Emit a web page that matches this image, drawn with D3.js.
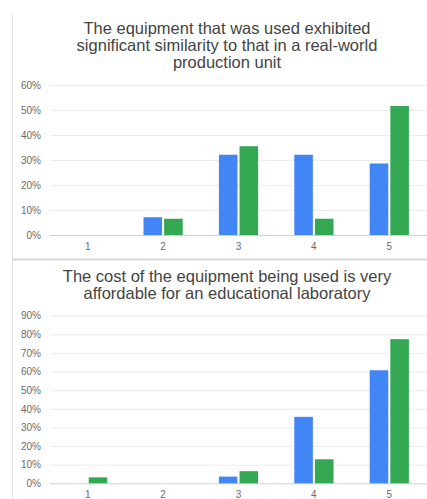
<!DOCTYPE html>
<html>
<head>
<meta charset="utf-8">
<script src="https://cdn.jsdelivr.net/npm/d3@7"></script>
<style>
  body { margin: 0; background: #fff; }
  svg { display: block; font-family: "Liberation Sans", Arial, sans-serif; }
</style>
</head>
<body>
<svg id="chart"></svg>
<script>
const width = 427
const height = 499

// DATA
const categories = ["1", "2", "3", "4", "5"]
const seriesKeys = ["a", "b"]
const colors = ["#4285f4", "#34a853"]

const title1 = ["The equipment that was used exhibited", "significant similarity to that in a real-world", "production unit"]
const blue1 = [0, 7.1, 32.1, 32.1, 28.6]
const green1 = [0, 6.5, 35.5, 6.5, 51.6]
const ticks1 = [0, 10, 20, 30, 40, 50, 60]

const title2 = ["The cost of the equipment being used is very", "affordable for an educational laboratory"]
const blue2 = [0, 0, 3.6, 35.7, 60.7]
const green2 = [3.2, 0, 6.5, 12.9, 77.4]
const ticks2 = [0, 10, 20, 30, 40, 50, 60, 70, 80, 90]

const svg = d3.select("#chart").attr("width", width).attr("height", height)

// panel borders
svg.append("line")
  .attr("x1", 12.5).attr("x2", 12.5).attr("y1", 13).attr("y2", height)
  .attr("stroke", "#e3e3e3").attr("stroke-width", 1)
svg.append("line")
  .attr("x1", 12).attr("x2", width).attr("y1", 259.5).attr("y2", 259.5)
  .attr("stroke", "#d6d6d6").attr("stroke-width", 2)

function drawPanel(cfg) {
  const g = svg.append("g")

  g.selectAll(".title")
    .data(cfg.title)
    .join("text")
    .attr("x", 227)
    .attr("y", (d, i) => cfg.titleY + i * 17)
    .attr("text-anchor", "middle")
    .attr("font-size", "16.5px")
    .attr("fill", "#444")
    .text((d) => d)

  const y = d3.scaleLinear().domain([0, d3.max(cfg.ticks)]).range([cfg.y0, cfg.yTop])
  const x0 = d3.scaleBand().domain(categories).range([50, 427])
    .paddingInner(0.48).paddingOuter(0.24)
  const x1 = d3.scaleBand().domain(seriesKeys).range([0, x0.bandwidth()]).paddingInner(0.1)

  const yAxis = d3.axisLeft(y).tickValues(cfg.ticks).tickFormat((d) => d + "%")
    .tickSizeInner(-(427 - 50)).tickSizeOuter(0).tickPadding(9)
  const ya = g.append("g").attr("transform", "translate(50,0)").call(yAxis)
  ya.select(".domain").remove()
  ya.selectAll(".tick line").attr("stroke", (d) => d === 0 ? "#d0d0d0" : "#ebebeb")
  ya.selectAll(".tick text").attr("fill", "#6b6b6b").attr("font-size", "10px")
    .attr("font-family", "Liberation Sans, Arial, sans-serif")

  const xAxis = d3.axisBottom(x0).tickSize(0).tickPadding(8)
  const xa = g.append("g").attr("transform", `translate(0,${cfg.y0})`).call(xAxis)
  xa.select(".domain").remove()
  xa.selectAll(".tick text").attr("fill", "#6b6b6b").attr("font-size", "10px")
    .attr("font-family", "Liberation Sans, Arial, sans-serif")

  const rows = categories.map((c, i) => ({ cat: c, vals: [cfg.blue[i], cfg.green[i]] }))
  g.selectAll(".grp")
    .data(rows)
    .join("g")
    .attr("transform", (d) => `translate(${x0(d.cat)},0)`)
    .selectAll("rect")
    .data((d) => d.vals.map((v, j) => ({ key: seriesKeys[j], v: v, j: j })))
    .join("rect")
    .attr("x", (d) => x1(d.key))
    .attr("width", x1.bandwidth())
    .attr("y", (d) => y(d.v))
    .attr("height", (d) => cfg.y0 - y(d.v))
    .attr("fill", (d) => colors[d.j])
}

drawPanel({ title: title1, titleY: 34, blue: blue1, green: green1, ticks: ticks1, y0: 235, yTop: 85 })
drawPanel({ title: title2, titleY: 282, blue: blue2, green: green2, ticks: ticks2, y0: 483.3, yTop: 315.7 })
</script>
</body>
</html>
